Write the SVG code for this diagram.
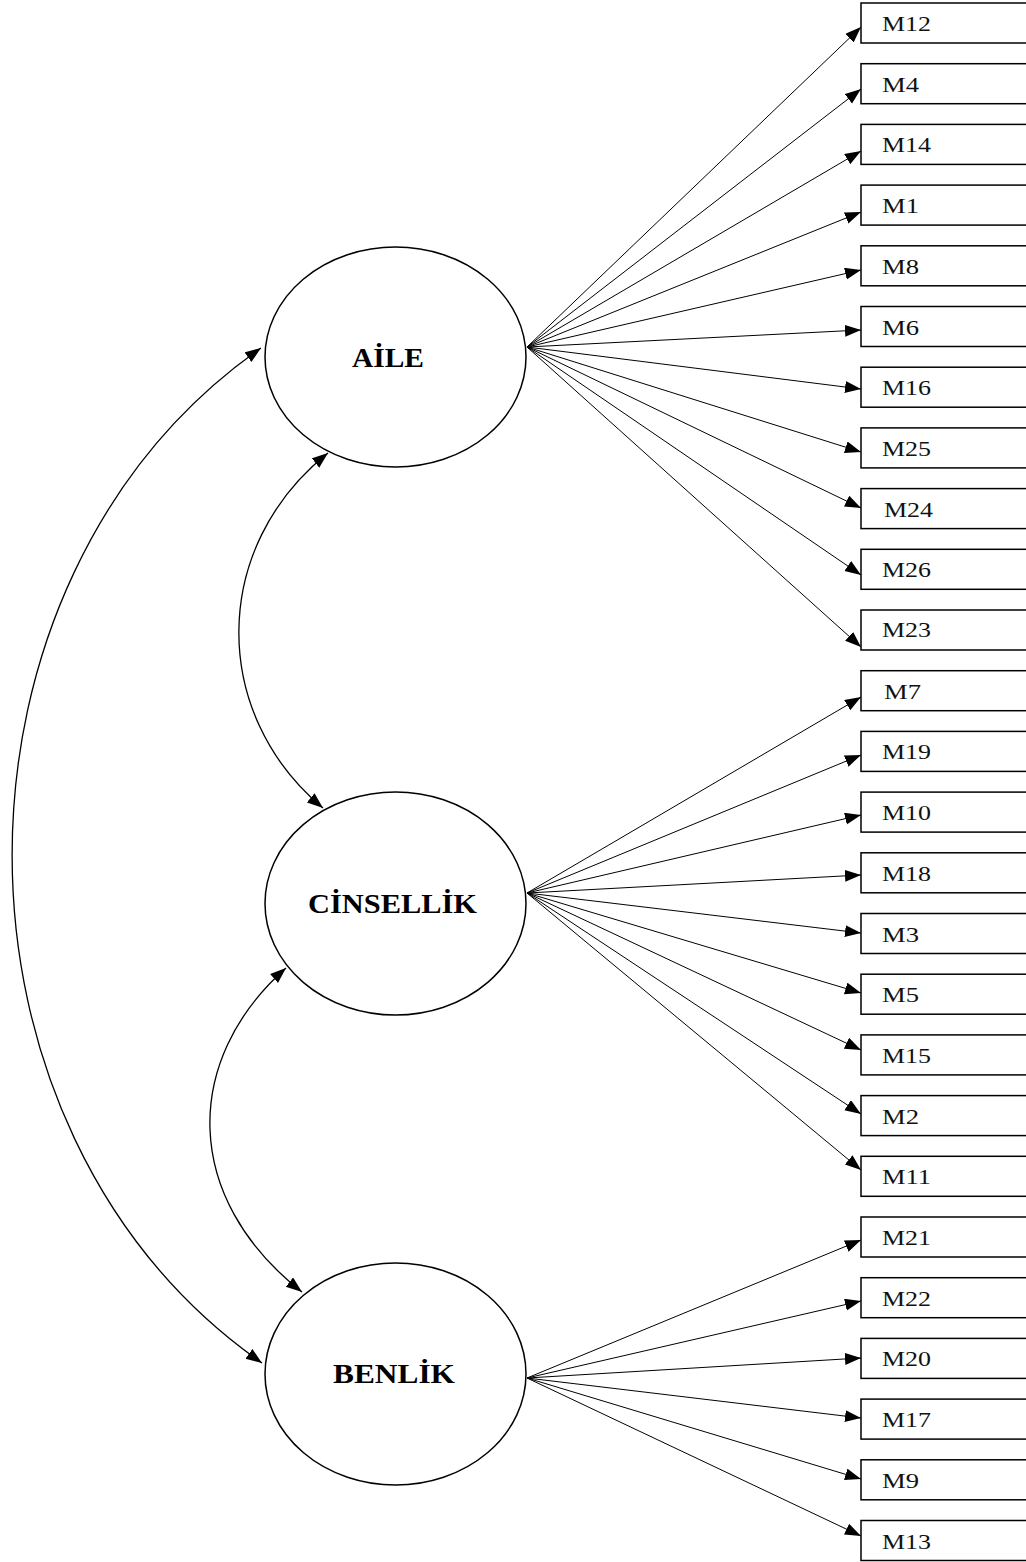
<svg xmlns="http://www.w3.org/2000/svg" width="1026" height="1562" viewBox="0 0 1026 1562">
<defs>
<style>
.box rect{fill:#fff;stroke:#000;stroke-width:1.5}
.box text{font-family:"Liberation Serif","Times New Roman",serif;font-size:21px;fill:#111}
.lat ellipse{fill:none;stroke:#000;stroke-width:1.5}
.lat text{font-family:"Liberation Serif","Times New Roman",serif;font-size:27px;font-weight:bold;fill:#000}
.conn line{stroke:#000;stroke-width:1;marker-end:url(#ah)}
.conn path{fill:none;stroke:#000;stroke-width:1.3;marker-start:url(#ah);marker-end:url(#ah)}
</style>
<marker id="ah" markerUnits="userSpaceOnUse" markerWidth="18" markerHeight="13" refX="16" refY="6" orient="auto-start-reverse" viewBox="0 0 18 13">
<path d="M0,0 L16,6 L0,12 z" fill="#000"/>
</marker>
</defs>

<g id="n-aile" class="lat"><ellipse cx="395.5" cy="357" rx="130.5" ry="110"/><text x="352" y="367" textLength="72" lengthAdjust="spacingAndGlyphs">AİLE</text></g>
<g id="n-cinsellik" class="lat"><ellipse cx="395.5" cy="903.5" rx="130.5" ry="111.5"/><text x="308" y="913" textLength="169" lengthAdjust="spacingAndGlyphs">CİNSELLİK</text></g>
<g id="n-benlik" class="lat"><ellipse cx="395.5" cy="1374" rx="130.5" ry="111"/><text x="333" y="1383" textLength="122" lengthAdjust="spacingAndGlyphs">BENLİK</text></g>

<g id="n-m12" class="box"><rect x="861" y="3" width="180" height="40"/><text x="882" y="31" textLength="49" lengthAdjust="spacingAndGlyphs">M12</text></g>
<g id="n-m4" class="box"><rect x="861" y="63.7" width="180" height="40"/><text x="882" y="91.7" textLength="37" lengthAdjust="spacingAndGlyphs">M4</text></g>
<g id="n-m14" class="box"><rect x="861" y="124.4" width="180" height="40"/><text x="882" y="152.4" textLength="49" lengthAdjust="spacingAndGlyphs">M14</text></g>
<g id="n-m1" class="box"><rect x="861" y="185.1" width="180" height="40"/><text x="882" y="213.1" textLength="37" lengthAdjust="spacingAndGlyphs">M1</text></g>
<g id="n-m8" class="box"><rect x="861" y="245.8" width="180" height="40"/><text x="882" y="273.8" textLength="37" lengthAdjust="spacingAndGlyphs">M8</text></g>
<g id="n-m6" class="box"><rect x="861" y="306.5" width="180" height="40"/><text x="882" y="334.5" textLength="37" lengthAdjust="spacingAndGlyphs">M6</text></g>
<g id="n-m16" class="box"><rect x="861" y="367.2" width="180" height="40"/><text x="882" y="395.2" textLength="49" lengthAdjust="spacingAndGlyphs">M16</text></g>
<g id="n-m25" class="box"><rect x="861" y="427.9" width="180" height="40"/><text x="882" y="455.9" textLength="49" lengthAdjust="spacingAndGlyphs">M25</text></g>
<g id="n-m24" class="box"><rect x="861" y="488.6" width="180" height="40"/><text x="884" y="516.6" textLength="49" lengthAdjust="spacingAndGlyphs">M24</text></g>
<g id="n-m26" class="box"><rect x="861" y="549.3" width="180" height="40"/><text x="882" y="577.3" textLength="49" lengthAdjust="spacingAndGlyphs">M26</text></g>
<g id="n-m23" class="box"><rect x="861" y="610" width="180" height="40"/><text x="882" y="637" textLength="49" lengthAdjust="spacingAndGlyphs">M23</text></g>
<g id="n-m7" class="box"><rect x="861" y="670.7" width="180" height="40"/><text x="884" y="698.7" textLength="37" lengthAdjust="spacingAndGlyphs">M7</text></g>
<g id="n-m19" class="box"><rect x="861" y="731.4" width="180" height="40"/><text x="882" y="759.4" textLength="49" lengthAdjust="spacingAndGlyphs">M19</text></g>
<g id="n-m10" class="box"><rect x="861" y="792.1" width="180" height="40"/><text x="882" y="820.1" textLength="49" lengthAdjust="spacingAndGlyphs">M10</text></g>
<g id="n-m18" class="box"><rect x="861" y="852.8" width="180" height="40"/><text x="882" y="880.8" textLength="49" lengthAdjust="spacingAndGlyphs">M18</text></g>
<g id="n-m3" class="box"><rect x="861" y="913.5" width="180" height="40"/><text x="882" y="941.5" textLength="37" lengthAdjust="spacingAndGlyphs">M3</text></g>
<g id="n-m5" class="box"><rect x="861" y="974.2" width="180" height="40"/><text x="882" y="1002.2" textLength="37" lengthAdjust="spacingAndGlyphs">M5</text></g>
<g id="n-m15" class="box"><rect x="861" y="1034.9" width="180" height="40"/><text x="882" y="1062.9" textLength="49" lengthAdjust="spacingAndGlyphs">M15</text></g>
<g id="n-m2" class="box"><rect x="861" y="1095.6" width="180" height="40"/><text x="882" y="1123.6" textLength="37" lengthAdjust="spacingAndGlyphs">M2</text></g>
<g id="n-m11" class="box"><rect x="861" y="1156.3" width="180" height="40"/><text x="882" y="1184.3" textLength="49" lengthAdjust="spacingAndGlyphs">M11</text></g>
<g id="n-m21" class="box"><rect x="861" y="1217" width="180" height="40"/><text x="882" y="1245" textLength="49" lengthAdjust="spacingAndGlyphs">M21</text></g>
<g id="n-m22" class="box"><rect x="861" y="1277.7" width="180" height="40"/><text x="882" y="1305.7" textLength="49" lengthAdjust="spacingAndGlyphs">M22</text></g>
<g id="n-m20" class="box"><rect x="861" y="1338.4" width="180" height="40"/><text x="882" y="1366.4" textLength="49" lengthAdjust="spacingAndGlyphs">M20</text></g>
<g id="n-m17" class="box"><rect x="861" y="1399.1" width="180" height="40"/><text x="882" y="1427.1" textLength="49" lengthAdjust="spacingAndGlyphs">M17</text></g>
<g id="n-m9" class="box"><rect x="861" y="1459.8" width="180" height="40"/><text x="882" y="1487.8" textLength="37" lengthAdjust="spacingAndGlyphs">M9</text></g>
<g id="n-m13" class="box"><rect x="861" y="1520.5" width="180" height="40"/><text x="882" y="1548.5" textLength="49" lengthAdjust="spacingAndGlyphs">M13</text></g>

<g id="connectors" class="conn">
<line x1="527" y1="347" x2="861" y2="27"/>
<line x1="527" y1="347" x2="861" y2="89"/>
<line x1="527" y1="347" x2="861" y2="151"/>
<line x1="527" y1="347" x2="861" y2="212"/>
<line x1="527" y1="347" x2="861" y2="270"/>
<line x1="527" y1="347" x2="861" y2="330"/>
<line x1="527" y1="347" x2="861" y2="389"/>
<line x1="527" y1="347" x2="861" y2="452"/>
<line x1="527" y1="347" x2="861" y2="508"/>
<line x1="527" y1="347" x2="861" y2="575"/>
<line x1="527" y1="347" x2="861" y2="647"/>
<line x1="527" y1="893" x2="861" y2="697"/>
<line x1="527" y1="893" x2="861" y2="755"/>
<line x1="527" y1="893" x2="861" y2="815"/>
<line x1="527" y1="893" x2="861" y2="875"/>
<line x1="527" y1="893" x2="861" y2="933"/>
<line x1="527" y1="893" x2="861" y2="993"/>
<line x1="527" y1="893" x2="861" y2="1050"/>
<line x1="527" y1="893" x2="861" y2="1114"/>
<line x1="527" y1="893" x2="861" y2="1170"/>
<line x1="527" y1="1378" x2="861" y2="1240"/>
<line x1="527" y1="1378" x2="861" y2="1301"/>
<line x1="527" y1="1378" x2="861" y2="1358"/>
<line x1="527" y1="1378" x2="861" y2="1418"/>
<line x1="527" y1="1378" x2="861" y2="1479"/>
<line x1="527" y1="1378" x2="861" y2="1536"/>
<path d="M261,348 C-71,581 -71,1130 262,1363"/>
<path d="M328,453 C210,547 210,714 323,808"/>
<path d="M286,968 C182,1060 182,1198 302,1292"/>
</g>
</svg>
